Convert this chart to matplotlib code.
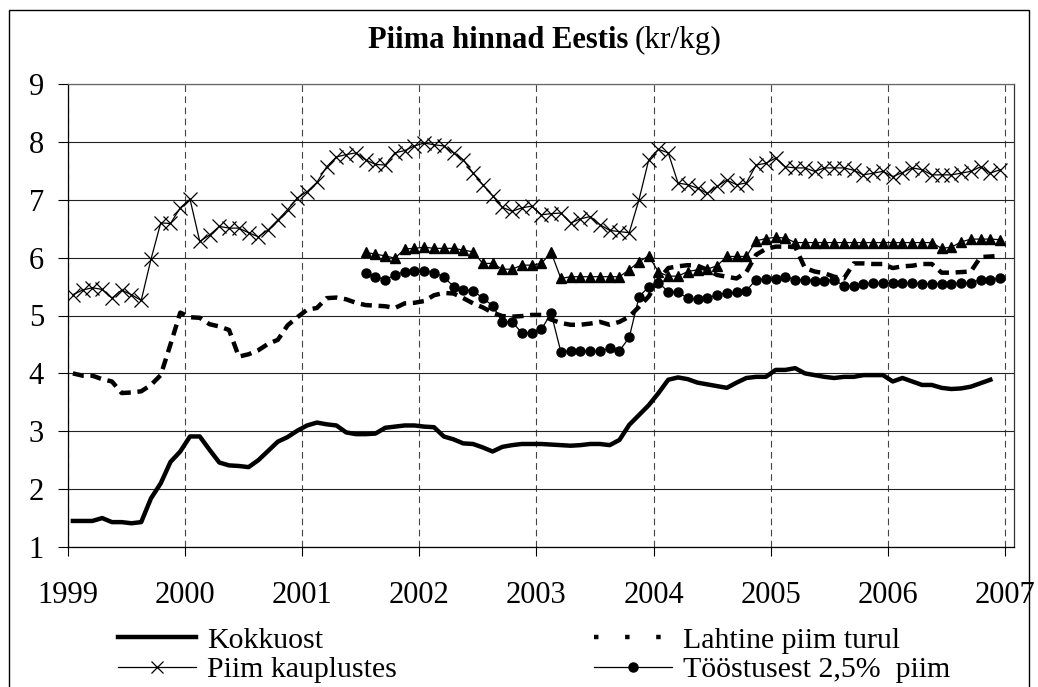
import numpy as np
import matplotlib
matplotlib.use("Agg")
import matplotlib.pyplot as plt
from matplotlib.lines import Line2D
from matplotlib.patches import Rectangle

plt.rcParams['font.family'] = ['Liberation Serif', 'DejaVu Serif']

# ---------------- data (monthly, Jan 1999 = index 0) ----------------
kokkuost = [1.45, 1.45, 1.45, 1.50, 1.43, 1.43, 1.41, 1.43, 1.84, 2.10, 2.47, 2.65,
            2.91, 2.91, 2.68, 2.46, 2.41, 2.40, 2.38, 2.50, 2.66, 2.82, 2.90, 3.01,
            3.10, 3.15, 3.12, 3.10, 2.98, 2.95, 2.95, 2.96, 3.06, 3.08, 3.10, 3.10,
            3.08, 3.07, 2.91, 2.86, 2.79, 2.78, 2.72, 2.65, 2.73, 2.76, 2.78, 2.78,
            2.78, 2.77, 2.76, 2.75, 2.76, 2.78, 2.78, 2.76, 2.85, 3.11, 3.28, 3.45,
            3.66, 3.89, 3.93, 3.90, 3.84, 3.81, 3.78, 3.75, 3.84, 3.92, 3.94, 3.94,
            4.06, 4.06, 4.09, 4.00, 3.97, 3.94, 3.92, 3.94, 3.94, 3.97, 3.97, 3.97,
            3.86, 3.92, 3.86, 3.80, 3.80, 3.75, 3.73, 3.74, 3.77, 3.83, 3.89]

lahtine = [4.00, 3.96, 3.96, 3.90, 3.86, 3.66, 3.67, 3.69, 3.80, 3.97, 4.50, 5.05,
           4.97, 4.96, 4.85, 4.81, 4.75, 4.29, 4.33, 4.40, 4.51, 4.58, 4.83, 4.97,
           5.10, 5.13, 5.30, 5.31, 5.28, 5.22, 5.18, 5.17, 5.16, 5.13, 5.21, 5.22,
           5.25, 5.35, 5.39, 5.38, 5.30, 5.21, 5.14, 5.05, 4.99, 4.98, 4.99, 5.01,
           5.01, 4.93, 4.87, 4.84, 4.84, 4.86, 4.89, 4.84, 4.89, 4.98, 5.15, 5.33,
           5.62, 5.82, 5.85, 5.87, 5.86, 5.79, 5.70, 5.67, 5.64, 5.75, 6.05, 6.15,
           6.19, 6.19, 6.19, 5.82, 5.76, 5.73, 5.67, 5.64, 5.90, 5.90, 5.89, 5.89,
           5.82, 5.85, 5.86, 5.89, 5.89, 5.74, 5.74, 5.75, 5.76, 6.01, 6.02, 6.03]

kauplustes = [5.36, 5.44, 5.48, 5.45, 5.30, 5.44, 5.36, 5.26, 5.97, 6.60, 6.59, 6.86,
              7.01, 6.28, 6.39, 6.54, 6.51, 6.51, 6.43, 6.36, 6.48, 6.65, 6.83, 7.03,
              7.14, 7.30, 7.57, 7.74, 7.78, 7.81, 7.69, 7.61, 7.60, 7.81, 7.85, 7.93,
              7.98, 7.95, 7.93, 7.81, 7.69, 7.46, 7.26, 7.07, 6.87, 6.80, 6.86, 6.89,
              6.74, 6.76, 6.77, 6.60, 6.67, 6.71, 6.57, 6.47, 6.45, 6.43, 7.00, 7.69,
              7.87, 7.81, 7.29, 7.26, 7.20, 7.11, 7.23, 7.34, 7.26, 7.29, 7.60, 7.63,
              7.72, 7.57, 7.55, 7.55, 7.49, 7.55, 7.55, 7.55, 7.51, 7.43, 7.46, 7.49,
              7.40, 7.47, 7.55, 7.52, 7.43, 7.43, 7.43, 7.46, 7.49, 7.57, 7.46, 7.52]

# the two series below start in July 2001 (index 30)
start_2001 = 30
kolmnurk = [6.09, 6.06, 6.03, 5.99, 6.15, 6.16,
            6.18, 6.16, 6.16, 6.16, 6.13, 6.10, 5.90, 5.90, 5.80, 5.80, 5.87, 5.87,
            5.90, 6.09, 5.64, 5.67, 5.67, 5.67, 5.67, 5.67, 5.67, 5.79, 5.93, 6.03,
            5.75, 5.68, 5.68, 5.76, 5.79, 5.80, 5.86, 6.02, 6.02, 6.02, 6.29, 6.33,
            6.35, 6.34, 6.26, 6.26, 6.26, 6.26, 6.26, 6.26, 6.26, 6.26, 6.26, 6.26,
            6.26, 6.26, 6.26, 6.26, 6.26, 6.16, 6.18, 6.27, 6.32, 6.32, 6.32, 6.31]

toostusest = [5.73, 5.67, 5.62, 5.70, 5.76, 5.77,
              5.77, 5.74, 5.67, 5.50, 5.44, 5.43, 5.30, 5.17, 4.89, 4.89, 4.70, 4.70,
              4.76, 5.04, 4.37, 4.39, 4.39, 4.39, 4.39, 4.43, 4.39, 4.62, 5.32, 5.50,
              5.57, 5.41, 5.40, 5.30, 5.28, 5.30, 5.36, 5.39, 5.40, 5.43, 5.62, 5.63,
              5.63, 5.67, 5.62, 5.62, 5.60, 5.60, 5.62, 5.51, 5.51, 5.55, 5.56, 5.56,
              5.56, 5.56, 5.56, 5.55, 5.55, 5.55, 5.55, 5.56, 5.57, 5.62, 5.62, 5.64]

years = [1999, 2000, 2001, 2002, 2003, 2004, 2005, 2006, 2007]
y_ticks = [1, 2, 3, 4, 5, 6, 7, 8, 9]
labels = ["Kokkuost", "Piim kauplustes", "Lahtine piim turul", "Tööstusest 2,5%  piim"]


def month_pos(start, n):
    idx = np.arange(start, start + n)
    return 1999 + (idx + 0.5) / 12.0


# ---------------- figure ----------------
W, H = 1038, 687
fig = plt.figure(figsize=(W / 100, H / 100), dpi=100)
ax = fig.add_axes([68 / W, 1 - 547 / H, (1014 - 68) / W, (547 - 84) / H])

ax.plot(month_pos(0, len(kokkuost)), kokkuost, color='black', lw=3.2,
        solid_joinstyle='round', zorder=5)
ax.plot(month_pos(0, len(lahtine)), lahtine, color='black', lw=3.2,
        dashes=(2.5, 1.5), zorder=4)
ax.plot(month_pos(0, len(kauplustes)), kauplustes, color='black', lw=0.9,
        marker='x', ms=10, mew=0.9, zorder=6)
ax.plot(month_pos(start_2001, len(kolmnurk)), kolmnurk, color='black', lw=0.9,
        marker='^', ms=7.5, zorder=6)
ax.plot(month_pos(start_2001, len(toostusest)), toostusest, color='black', lw=0.9,
        marker='o', ms=6.5, zorder=6)

ax.set_xlim(1999, 2007.077)
ax.set_ylim(1, 9)
ax.set_xticks(years)
ax.set_yticks(y_ticks)
ax.tick_params(axis='x', direction='out', length=6.5, width=0.8, pad=18,
               labelsize=22)
ax.tick_params(axis='y', direction='out', length=7.2, width=0.8, pad=10,
               labelsize=22)

ax.grid(axis='y', color='#222222', lw=0.8, ls='-')
ax.grid(axis='x', color='#444444', lw=0.8, ls=(0, (6, 4)))
ax.set_axisbelow(True)

ax.spines['left'].set_color('black')
ax.spines['bottom'].set_color('black')
ax.spines['top'].set_color('#666666')
ax.spines['right'].set_color('#333333')
for s in ax.spines.values():
    s.set_linewidth(0.9)

# title: bold part followed by normal "(kr/kg)"
t1 = fig.text(368 / W, 1 - 48 / H, "Piima hinnad Eestis", fontsize=22,
              fontweight='bold', ha='left', va='baseline')
fig.canvas.draw()
bb = t1.get_window_extent(renderer=fig.canvas.get_renderer())
t2 = fig.text((bb.x1 + 6) / W, 1 - 48 / H, "(kr/kg)", fontsize=22.5,
              ha='left', va='baseline')

# legend
handles = [
    Line2D([], [], color='black', lw=3.2),
    Line2D([], [], color='black', lw=0.9, marker='x', ms=9, mew=0.9),
    Line2D([], [], color='black', lw=3.2, dashes=(1.0, 6.0)),
    Line2D([], [], color='black', lw=0.9, marker='o', ms=6.5),
]
leg = fig.legend(handles, labels, ncol=2, loc='upper left',
                 bbox_to_anchor=(118 / W, 1 - 627 / H), frameon=False,
                 fontsize=21.5, handlelength=2.6, handletextpad=0.38,
                 columnspacing=6.6, labelspacing=0.09, borderpad=0,
                 borderaxespad=0, numpoints=1)

# outer border
fig.add_artist(Rectangle((9 / W, -0.05), (1029 - 9) / W, 0.05 + 1 - 10 / H,
                         transform=fig.transFigure, fill=False,
                         edgecolor='black', lw=1.0))

fig.savefig("out.png", dpi=100)
